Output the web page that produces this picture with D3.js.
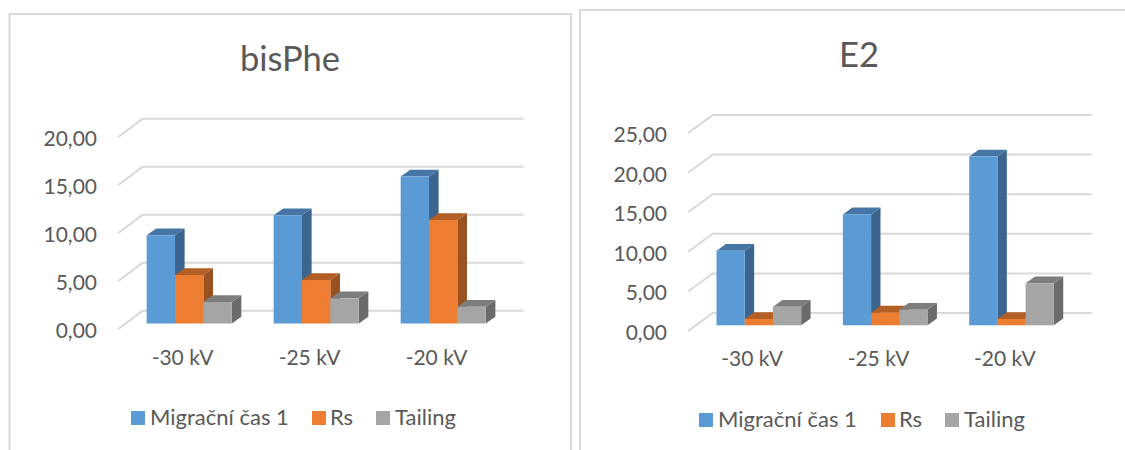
<!DOCTYPE html>
<html lang="cs">
<head>
<meta charset="utf-8">
<title>bisPhe a E2</title>
<script src="https://cdn.jsdelivr.net/npm/d3@7"></script>
<style>
  html, body { margin: 0; padding: 0; background: #fff; }
  svg { display: block; }
  svg text { fill: #595959; font-family: Lato, "Open Sans", sans-serif; }
</style>
</head>
<body>
<svg id="chart" width="1125" height="450"></svg>
<script>
// Shared categories and series
const voltages = ["-30 kV", "-25 kV", "-20 kV"];
const seriesNames = ["Migrační čas 1", "Rs", "Tailing"];

// bisPhe values, one array per series
const bisPheMigration = [9.19, 11.27, 15.30];
const bisPheRs = [5.05, 4.53, 10.78];
const bisPheTailing = [2.24, 2.62, 1.75];
const bisPheTicks = [0, 5, 10, 15, 20];

// E2 values, one array per series
const e2Migration = [9.42, 14.00, 21.30];
const e2Rs = [0.80, 1.60, 0.80];
const e2Tailing = [2.35, 1.97, 5.30];
const e2Ticks = [0, 5, 10, 15, 20, 25];

// Face colours per series: front, top, side
const faceColors = [
  { front: "#5B9BD5", top: "#4676A6", side: "#3B658F" },
  { front: "#ED7D31", top: "#B35E25", side: "#9A5120" },
  { front: "#A5A5A5", top: "#7D7D7D", side: "#6B6B6B" }
];

const gridColor = "#D9D9D9";
const legendTextGaps = [19, 18, 19];
const czech = d3.formatLocale({ decimal: ",", thousands: " ", grouping: [3], currency: ["", " Kč"] });
const tickFormat = czech.format(".2f");
const svg = d3.select("#chart");

// Draws a single pseudo-3D clustered column panel
function drawPanel(cfg) {
  const g = svg.append("g");

  // Panel frame, open at the bottom edge of the page
  g.append("path")
    .attr("d", d3.line()(cfg.frame))
    .attr("fill", "none")
    .attr("stroke", gridColor)
    .attr("stroke-width", 2);

  g.append("text")
    .attr("x", cfg.titleX)
    .attr("y", cfg.titleY)
    .attr("text-anchor", "middle")
    .attr("font-size", 34.5)
    .text(cfg.title);

  // Scales describe the plane the bar fronts stand on
  const y = d3.scaleLinear()
    .domain([0, d3.max(cfg.ticks)])
    .range([cfg.baseY, cfg.baseY - cfg.unit * d3.max(cfg.ticks)]);
  const x = d3.scaleBand()
    .domain(voltages)
    .range(cfg.xRange)
    .paddingInner(0.33)
    .paddingOuter(0.165);
  const xSeries = d3.scaleBand()
    .domain(seriesNames)
    .range([0, x.bandwidth()]);

  // Floor and wall gridlines with their slanted left returns
  const grid = g.append("g")
    .attr("fill", "none")
    .attr("stroke", gridColor)
    .attr("stroke-width", 2);
  cfg.ticks.forEach(t => {
    const yy = y(t);
    grid.append("path").attr("d", d3.line()([
      [cfg.xRange[0] + cfg.frontDx, yy + cfg.frontDy],
      [cfg.xRange[0] + cfg.backDx, yy + cfg.backDy],
      [cfg.xRange[1] + cfg.backDx, yy + cfg.backDy]
    ]));
  });

  // Value axis labels
  const yAxis = g.append("g")
    .attr("transform", `translate(${cfg.labelX},${cfg.labelDy})`)
    .call(d3.axisLeft(y).tickValues(cfg.ticks).tickFormat(tickFormat).tickSize(0).tickPadding(0))
    .attr("font-size", cfg.tickSize);
  yAxis.select(".domain").remove();

  // Columns: side and top faces first, then the front
  voltages.forEach((v, i) => {
    cfg.series.forEach((values, s) => {
      const x0 = x(v) + xSeries(seriesNames[s]);
      const w = xSeries.bandwidth();
      const top = y(values[i]);
      const bottom = y(0);
      const c = faceColors[s];
      const d = cfg.barDepth;
      const bar = g.append("g");
      bar.append("path")
        .attr("d", d3.line()([[x0 + w, top], [x0 + w + d.x, top - d.y], [x0 + w + d.x, bottom - d.y], [x0 + w, bottom]]) + "Z")
        .attr("fill", c.side);
      bar.append("path")
        .attr("d", d3.line()([[x0, top], [x0 + d.x, top - d.y], [x0 + w + d.x, top - d.y], [x0 + w, top]]) + "Z")
        .attr("fill", c.top);
      bar.append("rect")
        .attr("x", x0).attr("y", top)
        .attr("width", w).attr("height", bottom - top)
        .attr("fill", c.front);
    });
  });

  // Category labels
  const xAxis = g.append("g")
    .attr("transform", `translate(${cfg.catDx},${cfg.catY})`)
    .call(d3.axisBottom(x).tickSize(0).tickPadding(0))
    .attr("font-size", cfg.tickSize);
  xAxis.select(".domain").remove();

  // Legend row
  const legend = g.append("g");
  seriesNames.forEach((name, s) => {
    legend.append("rect")
      .attr("x", cfg.legendX[s]).attr("y", cfg.legendY - 14)
      .attr("width", 14).attr("height", 14)
      .attr("fill", faceColors[s].front);
    legend.append("text")
      .attr("x", cfg.legendX[s] + legendTextGaps[s]).attr("y", cfg.legendY)
      .attr("font-size", cfg.legendSize)
      .text(name);
  });
}

drawPanel({
  title: "bisPhe", titleX: 290, titleY: 71,
  frame: [[9.5, 450], [9.5, 14], [571, 14], [571, 450]],
  series: [bisPheMigration, bisPheRs, bisPheTailing],
  ticks: bisPheTicks,
  baseY: 323.5, unit: 9.6,
  xRange: [125.7, 506.7],
  frontDx: -7.7, frontDy: 5.8, backDx: 17, backDy: -12.8,
  barDepth: { x: 9.6, y: 6.8 },
  labelX: 97, labelDy: 7.5, tickSize: 21, legendSize: 22,
  catDx: -6.7, catY: 350,
  legendX: [131, 312, 376], legendY: 425
});

drawPanel({
  title: "E2", titleX: 859, titleY: 67,
  frame: [[580, 450], [580, 10], [1125, 10]],
  series: [e2Migration, e2Rs, e2Tailing],
  ticks: e2Ticks,
  baseY: 325.3, unit: 7.92,
  xRange: [695.7, 1074.7],
  frontDx: -7.7, frontDy: 5.8, backDx: 17, backDy: -12.3,
  barDepth: { x: 9.4, y: 6.8 },
  labelX: 667, labelDy: 7.5, tickSize: 21, legendSize: 22,
  catDx: -6.7, catY: 351,
  legendX: [699, 881, 945], legendY: 427
});
</script>
</body>
</html>
